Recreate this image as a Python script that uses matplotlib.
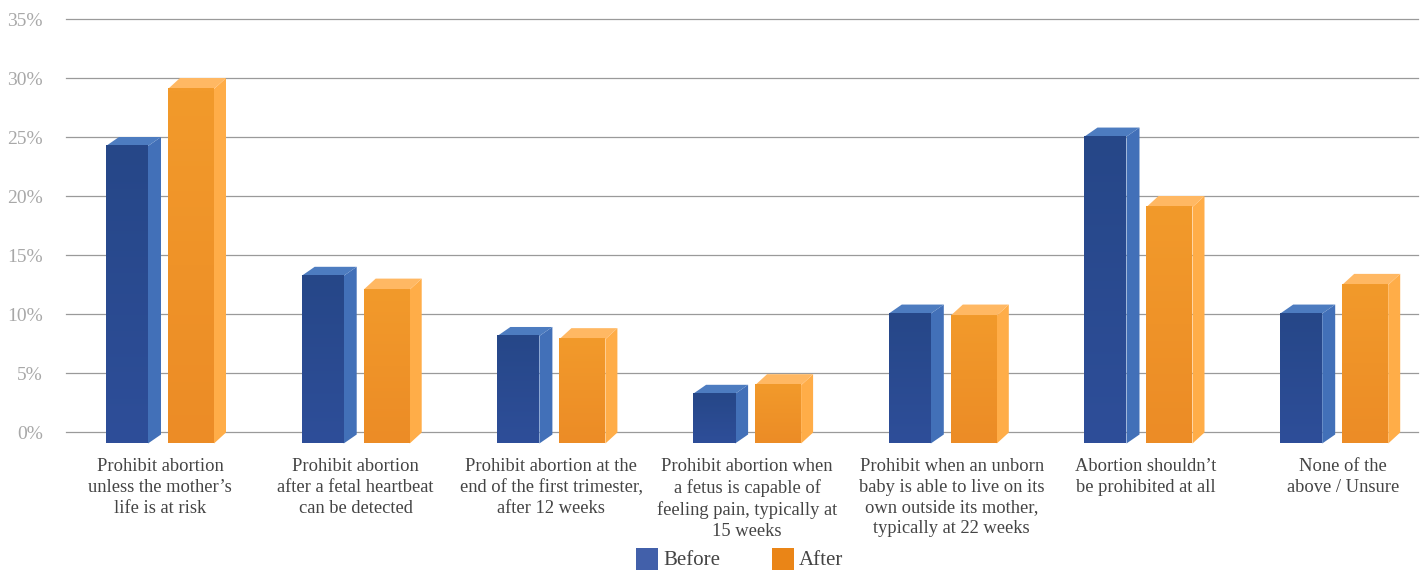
import numpy as np
import matplotlib
matplotlib.use("Agg")
import matplotlib.pyplot as plt
from matplotlib.patches import Polygon, Rectangle

categories = [
    "Prohibit abortion\nunless the mother’s\nlife is at risk",
    "Prohibit abortion\nafter a fetal heartbeat\ncan be detected",
    "Prohibit abortion at the\nend of the first trimester,\nafter 12 weeks",
    "Prohibit abortion when\na fetus is capable of\nfeeling pain, typically at\n15 weeks",
    "Prohibit when an unborn\nbaby is able to live on its\nown outside its mother,\ntypically at 22 weeks",
    "Abortion shouldn’t\nbe prohibited at all",
    "None of the\nabove / Unsure",
]
before = [25.0, 14.0, 8.9, 4.0, 10.8, 25.8, 10.8]
after = [30.0, 13.0, 8.8, 4.9, 10.8, 20.0, 13.4]
y_ticks = [0, 5, 10, 15, 20, 25, 30, 35]

W, H = 1425, 572
fig = plt.figure(figsize=(W / 100, H / 100), dpi=100, facecolor="white")
plt.rcParams["font.family"] = ["Liberation Serif", "DejaVu Serif"]

# Axes frame in pixels: gridlines span 66..1418, 0% at y=432, 35% at y=19
left, right, y0, y35 = 66, 1418, 432.0, 19.0
ax = fig.add_axes([left / W, 1 - y0 / H, (right - left) / W, (y0 - y35) / H])
px_x = 195.7
ax.set_xlim((left - 160) / px_x, (right - 160) / px_x)
ax.set_ylim(0, 35)
ax.axis("off")
px_y = (y0 - y35) / 35

for t in y_ticks:
    ax.plot([0, 1], [t, t], transform=ax.get_yaxis_transform(), color="#9a9a9a",
            lw=0.9, zorder=1, clip_on=False)
    ax.text(43, H - (y0 - t * px_y) - 2.5, f"{t}%", transform=None, ha="right", va="center",
            color="#a8a8a8", fontsize=14)

gradient = np.linspace(0, 1, 64).reshape(-1, 1)
floor_drop = 11.5 / px_y


def draw_bar(x_left, width, value, dx_px, dy_px, c_top, c_bot, c_side, c_cap):
    """Pseudo-3D column: the value sits on the back plane, the face is shifted forward."""
    depth_x = dx_px / px_x
    depth_y = dy_px / px_y
    x0 = x_left / px_x
    x1 = (x_left + width) / px_x
    top = value - depth_y
    bottom = -floor_drop
    ax.add_patch(Polygon([[x1, bottom], [x1 + depth_x, bottom + depth_y], [x1 + depth_x, value], [x1, top]],
                         closed=True, fc=c_side, ec="none", zorder=3, clip_on=False))
    ax.add_patch(Polygon([[x0, top], [x0 + depth_x, value], [x1 + depth_x, value], [x1, top]],
                         closed=True, fc=c_cap, ec="none", zorder=3, clip_on=False))
    a, b = np.array(matplotlib.colors.to_rgb(c_top)), np.array(matplotlib.colors.to_rgb(c_bot))
    img = a[None, None, :] * (1 - gradient[..., None]) + b[None, None, :] * gradient[..., None]
    ax.imshow(img, extent=(x0, x1, bottom, top), aspect="auto", zorder=4, clip_on=False,
              interpolation="bilinear")


# Horizontal nudge of each wrapped label relative to its group centre, in pixels
label_shift = [0, 0, 0, 0, 9, 7, 9]

for i, (b, a) in enumerate(zip(before, after)):
    base = -54 + i * px_x
    draw_bar(base, 42, b, 13, 9, "#264788", "#2e4e99", "#4270b8", "#4d7cc0")
    draw_bar(base + 62, 46, a, 12, 11, "#f29a2b", "#ec8c26", "#ffad48", "#ffb863")
    ax.annotate(categories[i], xy=(i, 0), xycoords="data",
                xytext=(label_shift[i] * 0.72, -(458 - y0) * 0.72), textcoords="offset points",
                ha="center", va="top", ma="center", color="#444444",
                fontsize=13.3, linespacing=1.29, annotation_clip=False)

ax.set_xlim((left - 160) / px_x, (right - 160) / px_x)
ax.set_ylim(0, 35)

# Legend swatches and labels
for sx, col, label, tx in [(636, "#4260aa", "Before", 663), (772, "#ea8517", "After", 799)]:
    fig.add_artist(Rectangle((sx / W, 1 - 570 / H), 22 / W, 22 / H, transform=fig.transFigure,
                             fc=col, ec="none"))
    fig.text(tx / W, 1 - 560.5 / H, label, ha="left", va="center", color="#444444", fontsize=15)

fig.savefig("out.png", dpi=100)
